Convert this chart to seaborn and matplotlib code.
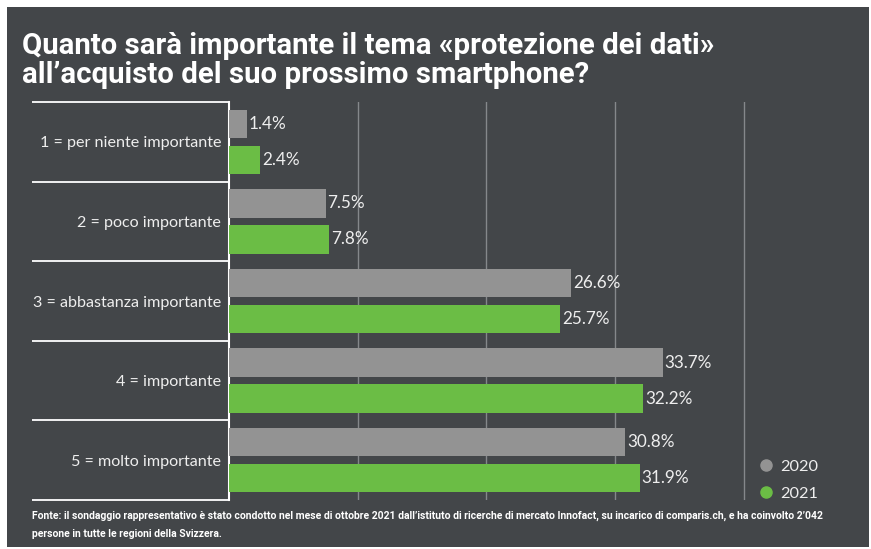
import matplotlib
matplotlib.use("Agg")
import matplotlib.pyplot as plt
from matplotlib.patches import Rectangle
from matplotlib.lines import Line2D
import seaborn as sns
import pandas as pd
import numpy as np

categories = ["1 = per niente importante", "2 = poco importante",
              "3 = abbastanza importante", "4 = importante", "5 = molto importante"]
years = ["2020", "2021"]
values_2020 = [1.4, 7.5, 26.6, 33.7, 30.8]
values_2021 = [2.4, 7.8, 25.7, 32.2, 31.9]
colors = ["#939393", "#6bbd45"]
title_lines = ["Quanto sarà importante il tema «protezione dei dati»",
               "all’acquisto del suo prossimo smartphone?"]
footnote_lines = ["Fonte: il sondaggio rappresentativo è stato condotto nel mese di ottobre 2021 dall’istituto di ricerche di mercato Innofact, su incarico di comparis.ch, e ha coinvolto 2’042",
                  "persone in tutte le regioni della Svizzera."]

df = pd.DataFrame({
    "cat": categories * 2,
    "year": [years[0]] * len(categories) + [years[1]] * len(categories),
    "val": values_2020 + values_2021,
})

BG = "#434649"
TXT = "#eeeeee"
W, H = 871, 549
dpi = 100
fig = plt.figure(figsize=(W / dpi, H / dpi), dpi=dpi, facecolor="white")
fig.patches.append(Rectangle((7 / W, 2 / H), 862 / W, 540 / H, transform=fig.transFigure,
                             facecolor=BG, edgecolor="none", zorder=-10))

ax = fig.add_axes([229 / W, 1 - 500 / H, (862 - 229) / W, 398 / H])
ax.set_facecolor(BG)
sns.barplot(data=df, y="cat", x="val", hue="year", palette=colors, orient="h",
            width=0.905, gap=0.21, saturation=1, legend=False, ax=ax, zorder=3)

ax.set_xlim(0, (862 - 229) / 12.87)
ax.set_ylim(4.5, -0.5)
ax.set_xticks([10, 20, 30, 40])
ax.set_xticklabels([])
ax.tick_params(axis="x", length=0)
ax.xaxis.grid(True, color="#85888b", lw=1, zorder=0)
ax.set_axisbelow(True)
ax.set_xlabel("")
ax.set_ylabel("")
for s in ["top", "right", "bottom"]:
    ax.spines[s].set_visible(False)
ax.spines["left"].set_color("white")
ax.spines["left"].set_linewidth(1.5)

ax.tick_params(axis="y", which="major", length=0, pad=5.5, labelcolor=TXT, labelsize=11.6)
for lab in ax.get_yticklabels():
    lab.set_fontfamily("Lato")
ax.set_yticks(np.arange(-0.5, len(categories), 1), minor=True)
ax.tick_params(axis="y", which="minor", length=197 * 0.72, width=1.3, color="white", direction="out")

for cont in ax.containers:
    ax.bar_label(cont, labels=[f"{v:.1f}%" for v in cont.datavalues], padding=1.5,
                 color=TXT, fontsize=12.3, fontfamily="Lato")

handles = [Line2D([], [], marker="o", ls="", color=c, markersize=8) for c in colors]
leg = fig.legend(handles, years, loc="upper left", bbox_to_anchor=(741 / W, 1 - 445 / H),
                 frameon=False, handletextpad=0.3, labelspacing=0.75,
                 prop={"family": "Lato", "size": 11.8}, labelcolor=TXT, handlelength=1.2)

fig.text(22 / W, 1 - 54 / H, title_lines[0], color="white", fontsize=21.2,
         fontweight="bold", family="Roboto", va="baseline")
fig.text(22 / W, 1 - 83 / H, title_lines[1], color="white", fontsize=21.2,
         fontweight="bold", family="Roboto", va="baseline")
fig.text(32 / W, 1 - 519 / H, footnote_lines[0], color="white", fontsize=7.45,
         fontweight="bold", family="Roboto", va="baseline")
fig.text(32 / W, 1 - 537 / H, footnote_lines[1], color="white", fontsize=7.45,
         fontweight="bold", family="Roboto", va="baseline")

fig.savefig("out.png", dpi=dpi, facecolor="white")
